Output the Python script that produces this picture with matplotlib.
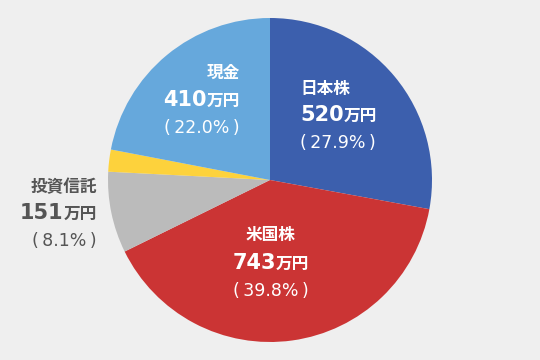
import matplotlib
matplotlib.use("Agg")
import matplotlib.pyplot as plt
from matplotlib.offsetbox import TextArea, HPacker, AnnotationBbox

plt.rcParams['font.family'] = ['Noto Sans CJK JP', 'DejaVu Sans']

# data
labels = ['日本株', '米国株', '投資信託', 'その他', '現金']
values = [520, 743, 151, 41, 410]
percents = ['27.9', '39.8', '8.1', '2.2', '22.0']
colors = ['#3c5fad', '#cb3434', '#bbbbbb', '#fdd23c', '#66a8dc']
show_label = [True, True, True, False, True]

W, H = 540, 360
CX, CY, R = 270, 180, 162

fig = plt.figure(figsize=(W / 100, H / 100), dpi=100)
fig.patch.set_facecolor('#efefef')
ax = fig.add_axes([0, 0, 1, 1])
ax.set_facecolor('#efefef')
ax.pie(values, colors=colors, startangle=90, counterclock=False,
       radius=1, center=(0, 0), wedgeprops=dict(linewidth=0))
ax.set_xlim(-CX / R, (W - CX) / R)
ax.set_ylim(-(H - CY) / R, CY / R)
ax.set_aspect('equal')
ax.axis('off')

# label layout: (anchor x px, ha, name y, number y, pct y, color)
layout = {
    0: (300, 'left', 89, 115, 143, 'white'),
    1: (271, 'center', 235, 263, 291, 'white'),
    2: (97, 'right', 187, 213, 241, '#555555'),
    4: (240, 'right', 73, 100, 128, 'white'),
}

num_fam = ['DejaVu Sans', 'Noto Sans CJK JP']
thin = '\u2009'

for i, (lab, val, pct) in enumerate(zip(labels, values, percents)):
    if not show_label[i]:
        continue
    x, ha, yn, yv, yp, col = layout[i]
    fig.text(x / W, 1 - yn / H, lab, ha=ha, va='center', fontsize=12,
             fontweight='bold', color=col)
    num = TextArea(str(val), textprops=dict(fontsize=15, fontweight='bold',
                                            color=col, family=num_fam))
    unit = TextArea('万円', textprops=dict(fontsize=12, fontweight='bold', color=col))
    box = HPacker(children=[num, unit], align='baseline', pad=0, sep=0)
    bx = {'center': 0.5, 'right': 1.0, 'left': 0.0}[ha]
    ab = AnnotationBbox(box, (x, H - yv), xycoords='figure pixels',
                        box_alignment=(bx, 0.5), frameon=False, pad=0)
    fig.add_artist(ab)
    fig.text(x / W, 1 - yp / H, f'({thin}{pct}%{thin})', ha=ha, va='center',
             fontsize=12.5, color=col, family=num_fam)

fig.savefig('out.png', dpi=100, facecolor=fig.get_facecolor())
